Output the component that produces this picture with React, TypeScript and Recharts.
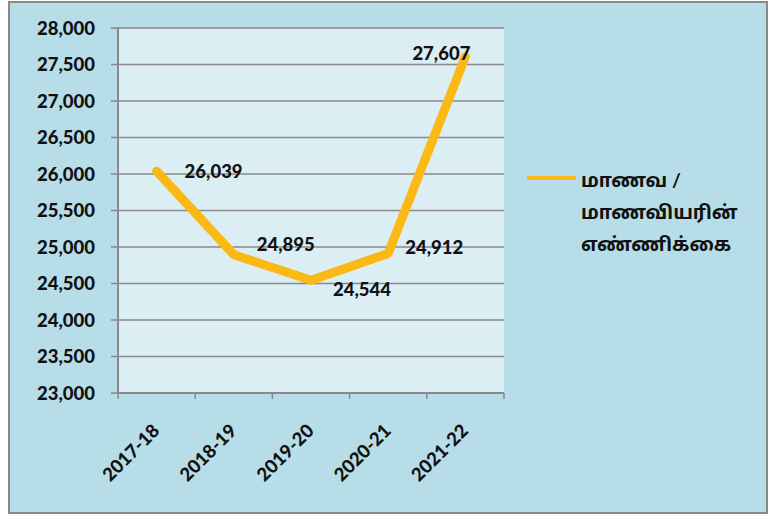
import React from "react";
import {
  LineChart,
  Line,
  XAxis,
  YAxis,
  CartesianGrid,
  Legend,
  LabelList,
} from "recharts";

const years = ["2017-18", "2018-19", "2019-20", "2020-21", "2021-22"];
const students = [26039, 24895, 24544, 24912, 27607];
const yTicks = [23000, 23500, 24000, 24500, 25000, 25500, 26000, 26500, 27000, 27500, 28000];
const seriesName = "மாணவ / மாணவியரின் எண்ணிக்கை";
const legendLines = ["மாணவ /", "மாணவியரின்", "எண்ணிக்கை"];

const data = years.map((year, i) => ({ year, value: students[i] }));

// where each value label sits relative to its point
const labelShift = [
  [57, 0],
  [52, -11],
  [51, 9],
  [46, -6],
  [-24, -4],
];

const FONT = "Lato, 'Noto Sans Tamil', 'Noto Sans', sans-serif";
const LINE_COLOR = "#fcb814";
const AXIS_GRAY = "#898989";
const TXT = 18.5;

const fmt = (v: number) => v.toLocaleString("en-US");

const XTick = (props: any) => {
  const { x, y, payload, index } = props;
  const half = payload.offset || 0;
  return (
    <g>
      <line x1={x - half} x2={x - half} y1={y - 8} y2={y - 2} stroke={AXIS_GRAY} strokeWidth={1.5} />
      {index === years.length - 1 && (
        <line x1={x + half} x2={x + half} y1={y - 8} y2={y - 2} stroke={AXIS_GRAY} strokeWidth={1.5} />
      )}
      <text
        transform={`translate(${x + 4},${y + 31}) rotate(-45)`}
        textAnchor="end"
        fontFamily={FONT}
        fontWeight={900}
        fontSize={TXT}
        fill="#111"
      >
        {payload.value}
      </text>
    </g>
  );
};

const ValueLabel = (props: any) => {
  const { x, y, value, index } = props;
  const [dx, dy] = labelShift[index];
  return (
    <text
      x={x + dx}
      y={y + dy}
      textAnchor="middle"
      dominantBaseline="central"
      fontFamily={FONT}
      fontWeight={900}
      fontSize={TXT}
      fill="#111"
    >
      {fmt(value)}
    </text>
  );
};

const LegendBox = () => (
  <div style={{ position: "relative", fontFamily: FONT, fontWeight: 700, fontSize: 19, color: "#111" }}>
    <div style={{ position: "absolute", left: 0, top: 12, width: 49, height: 4, background: LINE_COLOR }} />
    <div style={{ marginLeft: 54, lineHeight: "32px" }}>
      {legendLines.map((t) => (
        <div key={t}>{t}</div>
      ))}
    </div>
  </div>
);

export default function App() {
  return (
    <div
      style={{
        position: "absolute",
        left: 8,
        top: 1,
        width: 760,
        height: 513,
        boxSizing: "border-box",
        border: `2px solid ${AXIS_GRAY}`,
        background: "#b7dee8",
      }}
    >
      <LineChart
        width={756}
        height={509}
        data={data}
        margin={{ top: 25, right: 262, bottom: 0, left: 0 }}
      >
        <CartesianGrid
          vertical={false}
          fill="#dbeef4"
          stroke={AXIS_GRAY}
          strokeWidth={1.5}
          strokeOpacity={1}
        />
        <XAxis
          dataKey="year"
          scale="band"
          height={119}
          axisLine={{ stroke: AXIS_GRAY, strokeWidth: 2 }}
          tickLine={false}
          tick={<XTick />}
          interval={0}
        />
        <YAxis
          domain={[23000, 28000]}
          ticks={yTicks}
          width={108}
          tickSize={7}
          tickMargin={16}
          tickFormatter={fmt}
          axisLine={{ stroke: AXIS_GRAY, strokeWidth: 2 }}
          tickLine={{ stroke: AXIS_GRAY, strokeWidth: 1.5 }}
          tick={{ fontFamily: FONT, fontWeight: 900, fontSize: TXT, fill: "#111" }}
          allowDataOverflow
        />
        <Legend
          layout="horizontal"
          align="center"
          verticalAlign="middle"
          content={<LegendBox />}
          wrapperStyle={{ left: 517, top: 161, width: 230 }}
        />
        <Line
          name={seriesName}
          dataKey="value"
          stroke={LINE_COLOR}
          strokeWidth={9}
          strokeLinecap="round"
          strokeLinejoin="round"
          dot={false}
          activeDot={false}
          isAnimationActive={false}
        >
          <LabelList dataKey="value" content={<ValueLabel />} />
        </Line>
      </LineChart>
    </div>
  );
}
